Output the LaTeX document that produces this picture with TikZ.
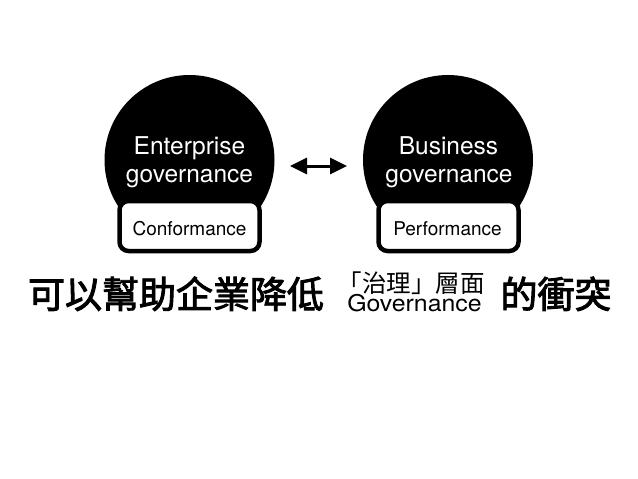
\documentclass[tikz,border=0pt]{standalone}
\usepackage{fontspec}
\setmainfont{TeX Gyre Heros}
\newfontfamily\widelat{TeX Gyre Heros}[FakeStretch=1.08]
\newfontfamily\cjk{Noto Sans CJK TC}
\newfontfamily\cjkbold{Noto Sans CJK TC}[FakeBold=2.5]
\usetikzlibrary{arrows.meta}
\tikzset{
  ball/.style={circle,fill=black,minimum size=170pt,inner sep=0pt},
  tagbox/.style={draw=black,line width=4.5pt,fill=white,rounded corners=9pt,minimum width=140pt,minimum height=50pt,inner sep=0pt},
  balltext/.style={text=white,font=\fontsize{24.5}{28}\selectfont,anchor=base,inner sep=0pt},
  tagtext/.style={font=\fontsize{19}{22}\selectfont,anchor=base,inner sep=0pt},
  bigcjk/.style={font=\cjkbold\fontsize{37}{40}\selectfont,anchor=base,inner sep=0pt},
  smallcjk/.style={font=\cjk\fontsize{24.5}{26}\selectfont,anchor=base,inner sep=0pt},
  smalllat/.style={font=\widelat\fontsize{23}{26}\selectfont,anchor=base,inner sep=0pt},
  dbl/.style={line width=3pt,{Triangle[length=17pt,width=16pt]}-{Triangle[length=17pt,width=16pt]}}
}
\begin{document}
\begin{tikzpicture}[x=1pt,y=-1pt]
\useasboundingbox (0,0) rectangle (638,479);
% left
\node[ball] (L) at (189.5,160) {};
\node[tagbox] (Lt) at (189.5,226) {};
\node[balltext] (L1) at (189.5,154) {Enterprise};
\node[balltext] (L2) at (189.5,182) {governance};
\node[tagtext] (L3) at (189.5,235) {Conformance};
% right
\node[ball] (R) at (448,160) {};
\node[tagbox] (Rt) at (448.5,226) {};
\node[balltext] (R1) at (448.5,154) {Business};
\node[balltext] (R2) at (449,182) {governance};
\node[tagtext] (R3) at (447.5,235) {Performance};
% arrow
\coordinate (a1) at (290,166);
\coordinate (a2) at (347,166);
\draw[dbl] (a1) -- (a2);
% bottom text
\node[bigcjk] (t1) at (176,308) {可以幫助企業降低};
\node[smallcjk] (t2) at (411,292) {「治理」層面};
\node[smalllat] (t3) at (414.5,311) {Governance};
\node[bigcjk] (t4) at (556,308) {的衝突};
\end{tikzpicture}
\end{document}
